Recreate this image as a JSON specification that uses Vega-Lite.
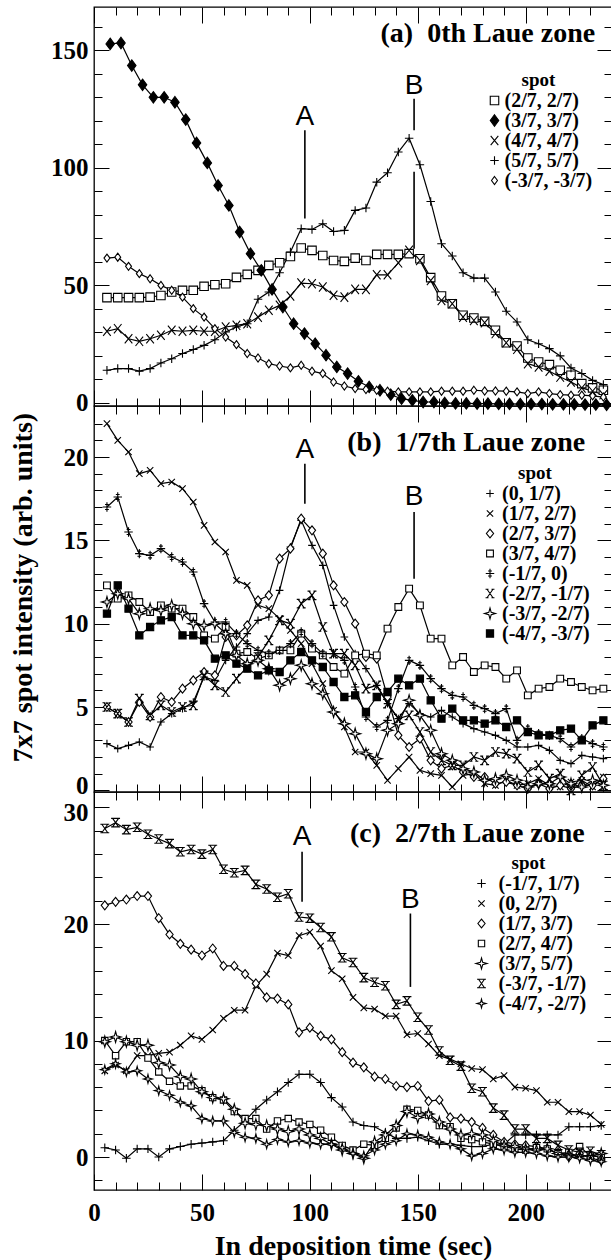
{
"$schema":"https://vega.github.io/schema/vega-lite/v6.json",
"background":"white",
"padding":{"left":8,"top":5,"right":1,"bottom":4},
"spacing":0,
"bounds":"flush",
"config":{
"view":{"stroke":"black","strokeWidth":1.3},
"axis":{"domain":false,"grid":false,"tickColor":"black","tickWidth":1,"labelFont":"Liberation Serif","labelFontSize":25,"labelFontWeight":"bold","labelColor":"black","titleFont":"Liberation Serif","titleFontSize":28,"titleFontWeight":"bold","titleColor":"black","labelFlush":false,"labelOverlap":false,"labelBound":false},
"legend":{"titleFont":"Liberation Serif","titleFontSize":19,"titleFontWeight":"bold","titleColor":"black","titleAnchor":"middle","titlePadding":1,"labelFont":"Liberation Serif","labelFontSize":20,"labelFontWeight":"bold","labelColor":"black","rowPadding":0,"symbolStrokeWidth":1.1,"symbolSize":72,"padding":0,"symbolOffset":0}
},
"resolve":{"scale":{"shape":"independent","fill":"independent","x":"independent","y":"independent"}},
"datasets":{
"ta":[{"label":"A","t":97.7,"v":121.6},{"label":"B","t":148.3,"v":135}],
"ra":[{"t":97.7,"v":116,"v2":78.4},{"t":148.3,"v":129.4,"v2":116},{"t":148.3,"v":98.3,"v2":65.6}],
"tb":[{"label":"A","t":97.7,"v":20.4},{"label":"B","t":148.3,"v":17.6}],
"rb":[{"t":97.7,"v":19.6,"v2":17.2},{"t":148.3,"v":16.7,"v2":12.7}],
"tc":[{"label":"A","t":96.4,"v":27.5},{"label":"B","t":146.6,"v":22.1}],
"rc":[{"t":96.4,"v":26.2,"v2":21.9},{"t":146.6,"v":20.9,"v2":14.6}],
"a":[
{"s":"(2/7, 2/7)","t":6,"v":44.8},{"s":"(2/7, 2/7)","t":11,"v":44.8},{"s":"(2/7, 2/7)","t":16,"v":44.8},{"s":"(2/7, 2/7)","t":21,"v":44.8},{"s":"(2/7, 2/7)","t":26,"v":45},{"s":"(2/7, 2/7)","t":31,"v":45.7},{"s":"(2/7, 2/7)","t":36,"v":47.2},{"s":"(2/7, 2/7)","t":41,"v":47.9},{"s":"(2/7, 2/7)","t":46,"v":47.9},{"s":"(2/7, 2/7)","t":51,"v":49.6},{"s":"(2/7, 2/7)","t":56,"v":50.3},{"s":"(2/7, 2/7)","t":61,"v":50.7},{"s":"(2/7, 2/7)","t":66,"v":53.4},{"s":"(2/7, 2/7)","t":71,"v":54.7},{"s":"(2/7, 2/7)","t":76,"v":56.4},{"s":"(2/7, 2/7)","t":81,"v":58.5},{"s":"(2/7, 2/7)","t":86,"v":59.6},{"s":"(2/7, 2/7)","t":91,"v":62.3},{"s":"(2/7, 2/7)","t":96,"v":65.9},{"s":"(2/7, 2/7)","t":101,"v":64.9},{"s":"(2/7, 2/7)","t":106,"v":62.7},{"s":"(2/7, 2/7)","t":111,"v":60.6},{"s":"(2/7, 2/7)","t":116,"v":60.2},{"s":"(2/7, 2/7)","t":121,"v":61.6},{"s":"(2/7, 2/7)","t":126,"v":60.6},{"s":"(2/7, 2/7)","t":131,"v":63.2},{"s":"(2/7, 2/7)","t":136,"v":63.2},{"s":"(2/7, 2/7)","t":141,"v":63.2},{"s":"(2/7, 2/7)","t":146,"v":63.5},{"s":"(2/7, 2/7)","t":151,"v":61.3},{"s":"(2/7, 2/7)","t":156,"v":53.3},{"s":"(2/7, 2/7)","t":161,"v":45.5},{"s":"(2/7, 2/7)","t":166,"v":42.2},{"s":"(2/7, 2/7)","t":171,"v":37.3},{"s":"(2/7, 2/7)","t":176,"v":36.1},{"s":"(2/7, 2/7)","t":181,"v":34.7},{"s":"(2/7, 2/7)","t":186,"v":30.9},{"s":"(2/7, 2/7)","t":191,"v":25.6},{"s":"(2/7, 2/7)","t":196,"v":24.2},{"s":"(2/7, 2/7)","t":201,"v":19.1},{"s":"(2/7, 2/7)","t":206,"v":17.4},{"s":"(2/7, 2/7)","t":211,"v":16.3},{"s":"(2/7, 2/7)","t":216,"v":13.9},{"s":"(2/7, 2/7)","t":221,"v":11.8},{"s":"(2/7, 2/7)","t":226,"v":8.2},{"s":"(2/7, 2/7)","t":231,"v":6.4},{"s":"(2/7, 2/7)","t":236,"v":5.4},
{"s":"(3/7, 3/7)","t":7.5,"v":152.7},{"s":"(3/7, 3/7)","t":12.5,"v":153.1},{"s":"(3/7, 3/7)","t":17.5,"v":143.5},{"s":"(3/7, 3/7)","t":22.5,"v":135.3},{"s":"(3/7, 3/7)","t":27.5,"v":130},{"s":"(3/7, 3/7)","t":32.5,"v":130},{"s":"(3/7, 3/7)","t":37.5,"v":127.9},{"s":"(3/7, 3/7)","t":42.5,"v":120.5},{"s":"(3/7, 3/7)","t":47.5,"v":110.6},{"s":"(3/7, 3/7)","t":52.5,"v":102.1},{"s":"(3/7, 3/7)","t":57.5,"v":92.5},{"s":"(3/7, 3/7)","t":62.5,"v":84},{"s":"(3/7, 3/7)","t":67.5,"v":72.7},{"s":"(3/7, 3/7)","t":72.5,"v":63.5},{"s":"(3/7, 3/7)","t":77.5,"v":56.4},{"s":"(3/7, 3/7)","t":82.5,"v":48.3},{"s":"(3/7, 3/7)","t":87.5,"v":40.8},{"s":"(3/7, 3/7)","t":92.5,"v":33.7},{"s":"(3/7, 3/7)","t":97.5,"v":29.5},{"s":"(3/7, 3/7)","t":102.5,"v":25.2},{"s":"(3/7, 3/7)","t":107.5,"v":20.3},{"s":"(3/7, 3/7)","t":112.5,"v":15.3},{"s":"(3/7, 3/7)","t":117.5,"v":12.5},{"s":"(3/7, 3/7)","t":122.5,"v":9.2},{"s":"(3/7, 3/7)","t":127.5,"v":6.8},{"s":"(3/7, 3/7)","t":132.5,"v":5.4},{"s":"(3/7, 3/7)","t":137.5,"v":3.5},{"s":"(3/7, 3/7)","t":142.5,"v":1.8},{"s":"(3/7, 3/7)","t":147.5,"v":1.1},{"s":"(3/7, 3/7)","t":152.5,"v":0.4},{"s":"(3/7, 3/7)","t":157.5,"v":0.4},{"s":"(3/7, 3/7)","t":162.5,"v":0},{"s":"(3/7, 3/7)","t":167.5,"v":-0.2},{"s":"(3/7, 3/7)","t":172.5,"v":-0.2},{"s":"(3/7, 3/7)","t":177.5,"v":-0.3},{"s":"(3/7, 3/7)","t":182.5,"v":-0.3},{"s":"(3/7, 3/7)","t":187.5,"v":-0.4},{"s":"(3/7, 3/7)","t":192.5,"v":-0.4},{"s":"(3/7, 3/7)","t":197.5,"v":-0.5},{"s":"(3/7, 3/7)","t":202.5,"v":-0.5},{"s":"(3/7, 3/7)","t":207.5,"v":-0.5},{"s":"(3/7, 3/7)","t":212.5,"v":-0.6},{"s":"(3/7, 3/7)","t":217.5,"v":-0.6},{"s":"(3/7, 3/7)","t":222.5,"v":-0.6},{"s":"(3/7, 3/7)","t":227.5,"v":-0.7},{"s":"(3/7, 3/7)","t":232.5,"v":-0.7},{"s":"(3/7, 3/7)","t":237.5,"v":-0.8},
{"s":"(4/7, 4/7)","t":6,"v":30.5},{"s":"(4/7, 4/7)","t":11,"v":31.6},{"s":"(4/7, 4/7)","t":16,"v":27.3},{"s":"(4/7, 4/7)","t":21,"v":26.2},{"s":"(4/7, 4/7)","t":26,"v":27.3},{"s":"(4/7, 4/7)","t":31,"v":28.8},{"s":"(4/7, 4/7)","t":36,"v":30.9},{"s":"(4/7, 4/7)","t":41,"v":30.5},{"s":"(4/7, 4/7)","t":46,"v":30.9},{"s":"(4/7, 4/7)","t":51,"v":30.5},{"s":"(4/7, 4/7)","t":56,"v":30.5},{"s":"(4/7, 4/7)","t":61,"v":32.3},{"s":"(4/7, 4/7)","t":66,"v":33},{"s":"(4/7, 4/7)","t":71,"v":33.7},{"s":"(4/7, 4/7)","t":76,"v":36.5},{"s":"(4/7, 4/7)","t":81,"v":39.4},{"s":"(4/7, 4/7)","t":86,"v":41.5},{"s":"(4/7, 4/7)","t":91,"v":45.5},{"s":"(4/7, 4/7)","t":96,"v":51},{"s":"(4/7, 4/7)","t":101,"v":50.7},{"s":"(4/7, 4/7)","t":106,"v":49.3},{"s":"(4/7, 4/7)","t":111,"v":45.8},{"s":"(4/7, 4/7)","t":116,"v":45},{"s":"(4/7, 4/7)","t":121,"v":48.3},{"s":"(4/7, 4/7)","t":126,"v":48.3},{"s":"(4/7, 4/7)","t":131,"v":54.5},{"s":"(4/7, 4/7)","t":136,"v":54.5},{"s":"(4/7, 4/7)","t":141,"v":59.6},{"s":"(4/7, 4/7)","t":146,"v":64.9},{"s":"(4/7, 4/7)","t":151,"v":60.6},{"s":"(4/7, 4/7)","t":156,"v":52.1},{"s":"(4/7, 4/7)","t":161,"v":43.6},{"s":"(4/7, 4/7)","t":166,"v":42.2},{"s":"(4/7, 4/7)","t":171,"v":36.5},{"s":"(4/7, 4/7)","t":176,"v":35.1},{"s":"(4/7, 4/7)","t":181,"v":34.1},{"s":"(4/7, 4/7)","t":186,"v":29.5},{"s":"(4/7, 4/7)","t":191,"v":25.6},{"s":"(4/7, 4/7)","t":196,"v":22.8},{"s":"(4/7, 4/7)","t":201,"v":16.7},{"s":"(4/7, 4/7)","t":206,"v":15.3},{"s":"(4/7, 4/7)","t":211,"v":13.5},{"s":"(4/7, 4/7)","t":216,"v":11},{"s":"(4/7, 4/7)","t":221,"v":8.9},{"s":"(4/7, 4/7)","t":226,"v":6.4},{"s":"(4/7, 4/7)","t":231,"v":5},{"s":"(4/7, 4/7)","t":236,"v":3.5},
{"s":"(5/7, 5/7)","t":6,"v":13.9},{"s":"(5/7, 5/7)","t":11,"v":14.6},{"s":"(5/7, 5/7)","t":16,"v":14.6},{"s":"(5/7, 5/7)","t":21,"v":13.5},{"s":"(5/7, 5/7)","t":26,"v":14.6},{"s":"(5/7, 5/7)","t":31,"v":17},{"s":"(5/7, 5/7)","t":36,"v":18.8},{"s":"(5/7, 5/7)","t":41,"v":21},{"s":"(5/7, 5/7)","t":46,"v":22.7},{"s":"(5/7, 5/7)","t":51,"v":24.5},{"s":"(5/7, 5/7)","t":56,"v":26.9},{"s":"(5/7, 5/7)","t":61,"v":30.2},{"s":"(5/7, 5/7)","t":66,"v":32.3},{"s":"(5/7, 5/7)","t":71,"v":33.7},{"s":"(5/7, 5/7)","t":76,"v":44.1},{"s":"(5/7, 5/7)","t":81,"v":47.2},{"s":"(5/7, 5/7)","t":86,"v":55.4},{"s":"(5/7, 5/7)","t":91,"v":64.2},{"s":"(5/7, 5/7)","t":96,"v":74.1},{"s":"(5/7, 5/7)","t":101,"v":73.8},{"s":"(5/7, 5/7)","t":106,"v":76.2},{"s":"(5/7, 5/7)","t":111,"v":72.9},{"s":"(5/7, 5/7)","t":116,"v":73.4},{"s":"(5/7, 5/7)","t":121,"v":81.9},{"s":"(5/7, 5/7)","t":126,"v":82.9},{"s":"(5/7, 5/7)","t":131,"v":93.9},{"s":"(5/7, 5/7)","t":136,"v":97.9},{"s":"(5/7, 5/7)","t":141,"v":106.7},{"s":"(5/7, 5/7)","t":146,"v":112.6},{"s":"(5/7, 5/7)","t":151,"v":101.3},{"s":"(5/7, 5/7)","t":156,"v":85.7},{"s":"(5/7, 5/7)","t":161,"v":67.7},{"s":"(5/7, 5/7)","t":166,"v":62.5},{"s":"(5/7, 5/7)","t":171,"v":55.4},{"s":"(5/7, 5/7)","t":176,"v":53.1},{"s":"(5/7, 5/7)","t":181,"v":53.1},{"s":"(5/7, 5/7)","t":186,"v":47.2},{"s":"(5/7, 5/7)","t":191,"v":39},{"s":"(5/7, 5/7)","t":196,"v":34.4},{"s":"(5/7, 5/7)","t":201,"v":26.9},{"s":"(5/7, 5/7)","t":206,"v":25.2},{"s":"(5/7, 5/7)","t":211,"v":23.1},{"s":"(5/7, 5/7)","t":216,"v":20},{"s":"(5/7, 5/7)","t":221,"v":14.9},{"s":"(5/7, 5/7)","t":226,"v":12.5},{"s":"(5/7, 5/7)","t":231,"v":9.6},{"s":"(5/7, 5/7)","t":236,"v":7.8},
{"s":"(-3/7, -3/7)","t":6,"v":61.6},{"s":"(-3/7, -3/7)","t":11,"v":62},{"s":"(-3/7, -3/7)","t":16,"v":58.1},{"s":"(-3/7, -3/7)","t":21,"v":55},{"s":"(-3/7, -3/7)","t":26,"v":52.8},{"s":"(-3/7, -3/7)","t":31,"v":50},{"s":"(-3/7, -3/7)","t":36,"v":47.9},{"s":"(-3/7, -3/7)","t":41,"v":45},{"s":"(-3/7, -3/7)","t":46,"v":40.1},{"s":"(-3/7, -3/7)","t":51,"v":36.5},{"s":"(-3/7, -3/7)","t":56,"v":31.6},{"s":"(-3/7, -3/7)","t":61,"v":28},{"s":"(-3/7, -3/7)","t":66,"v":24.8},{"s":"(-3/7, -3/7)","t":71,"v":21},{"s":"(-3/7, -3/7)","t":76,"v":19.1},{"s":"(-3/7, -3/7)","t":81,"v":16.7},{"s":"(-3/7, -3/7)","t":86,"v":15.7},{"s":"(-3/7, -3/7)","t":91,"v":14.9},{"s":"(-3/7, -3/7)","t":96,"v":16},{"s":"(-3/7, -3/7)","t":101,"v":13.5},{"s":"(-3/7, -3/7)","t":106,"v":12.5},{"s":"(-3/7, -3/7)","t":111,"v":8.9},{"s":"(-3/7, -3/7)","t":116,"v":7.2},{"s":"(-3/7, -3/7)","t":121,"v":6.1},{"s":"(-3/7, -3/7)","t":126,"v":5.7},{"s":"(-3/7, -3/7)","t":131,"v":5.4},{"s":"(-3/7, -3/7)","t":136,"v":5},{"s":"(-3/7, -3/7)","t":141,"v":4.7},{"s":"(-3/7, -3/7)","t":146,"v":4.7},{"s":"(-3/7, -3/7)","t":151,"v":4.7},{"s":"(-3/7, -3/7)","t":156,"v":4.7},{"s":"(-3/7, -3/7)","t":161,"v":5},{"s":"(-3/7, -3/7)","t":166,"v":5},{"s":"(-3/7, -3/7)","t":171,"v":5},{"s":"(-3/7, -3/7)","t":176,"v":5.4},{"s":"(-3/7, -3/7)","t":181,"v":5.1},{"s":"(-3/7, -3/7)","t":186,"v":5.1},{"s":"(-3/7, -3/7)","t":191,"v":5},{"s":"(-3/7, -3/7)","t":196,"v":4.7},{"s":"(-3/7, -3/7)","t":201,"v":4},{"s":"(-3/7, -3/7)","t":206,"v":4.7},{"s":"(-3/7, -3/7)","t":211,"v":4},{"s":"(-3/7, -3/7)","t":216,"v":3.5},{"s":"(-3/7, -3/7)","t":221,"v":3.3},{"s":"(-3/7, -3/7)","t":226,"v":3.3},{"s":"(-3/7, -3/7)","t":231,"v":3},{"s":"(-3/7, -3/7)","t":236,"v":2.5}
],
"b":[
{"s":"(0, 1/7)","t":6,"v":2.8},{"s":"(0, 1/7)","t":11,"v":2.5},{"s":"(0, 1/7)","t":16,"v":2.7},{"s":"(0, 1/7)","t":21,"v":2.9},{"s":"(0, 1/7)","t":26,"v":2.6},{"s":"(0, 1/7)","t":31,"v":4.1},{"s":"(0, 1/7)","t":36,"v":4.6},{"s":"(0, 1/7)","t":41,"v":4.9},{"s":"(0, 1/7)","t":46,"v":5.3},{"s":"(0, 1/7)","t":51,"v":6.8},{"s":"(0, 1/7)","t":56,"v":6.6},{"s":"(0, 1/7)","t":61,"v":7.8},{"s":"(0, 1/7)","t":66,"v":8.6},{"s":"(0, 1/7)","t":71,"v":9.4},{"s":"(0, 1/7)","t":76,"v":10.2},{"s":"(0, 1/7)","t":81,"v":10.4},{"s":"(0, 1/7)","t":86,"v":12},{"s":"(0, 1/7)","t":91,"v":14.6},{"s":"(0, 1/7)","t":96,"v":16.2},{"s":"(0, 1/7)","t":101,"v":14.7},{"s":"(0, 1/7)","t":106,"v":13.5},{"s":"(0, 1/7)","t":111,"v":11.1},{"s":"(0, 1/7)","t":116,"v":9.2},{"s":"(0, 1/7)","t":121,"v":8.2},{"s":"(0, 1/7)","t":126,"v":7.3},{"s":"(0, 1/7)","t":131,"v":6.3},{"s":"(0, 1/7)","t":136,"v":5.2},{"s":"(0, 1/7)","t":141,"v":4.3},{"s":"(0, 1/7)","t":146,"v":5.2},{"s":"(0, 1/7)","t":151,"v":4.6},{"s":"(0, 1/7)","t":156,"v":4.4},{"s":"(0, 1/7)","t":161,"v":4.8},{"s":"(0, 1/7)","t":166,"v":4.4},{"s":"(0, 1/7)","t":171,"v":4},{"s":"(0, 1/7)","t":176,"v":3.7},{"s":"(0, 1/7)","t":181,"v":3.5},{"s":"(0, 1/7)","t":186,"v":3.3},{"s":"(0, 1/7)","t":191,"v":3},{"s":"(0, 1/7)","t":196,"v":2.6},{"s":"(0, 1/7)","t":201,"v":2.6},{"s":"(0, 1/7)","t":206,"v":2.7},{"s":"(0, 1/7)","t":211,"v":2.4},{"s":"(0, 1/7)","t":216,"v":1.8},{"s":"(0, 1/7)","t":221,"v":1.6},{"s":"(0, 1/7)","t":226,"v":2.1},{"s":"(0, 1/7)","t":231,"v":2},{"s":"(0, 1/7)","t":236,"v":1.9},
{"s":"(1/7, 2/7)","t":6,"v":22},{"s":"(1/7, 2/7)","t":11,"v":21},{"s":"(1/7, 2/7)","t":16,"v":20.3},{"s":"(1/7, 2/7)","t":21,"v":19},{"s":"(1/7, 2/7)","t":26,"v":19.2},{"s":"(1/7, 2/7)","t":31,"v":18.4},{"s":"(1/7, 2/7)","t":36,"v":18.5},{"s":"(1/7, 2/7)","t":41,"v":18.1},{"s":"(1/7, 2/7)","t":46,"v":17.3},{"s":"(1/7, 2/7)","t":51,"v":15.9},{"s":"(1/7, 2/7)","t":56,"v":14.9},{"s":"(1/7, 2/7)","t":61,"v":14.3},{"s":"(1/7, 2/7)","t":66,"v":12.6},{"s":"(1/7, 2/7)","t":71,"v":12.3},{"s":"(1/7, 2/7)","t":76,"v":11.1},{"s":"(1/7, 2/7)","t":81,"v":10.9},{"s":"(1/7, 2/7)","t":86,"v":10.3},{"s":"(1/7, 2/7)","t":91,"v":9.6},{"s":"(1/7, 2/7)","t":96,"v":8.8},{"s":"(1/7, 2/7)","t":101,"v":7.6},{"s":"(1/7, 2/7)","t":106,"v":6.4},{"s":"(1/7, 2/7)","t":111,"v":4.8},{"s":"(1/7, 2/7)","t":116,"v":3.8},{"s":"(1/7, 2/7)","t":121,"v":2.3},{"s":"(1/7, 2/7)","t":126,"v":2.3},{"s":"(1/7, 2/7)","t":131,"v":1.5},{"s":"(1/7, 2/7)","t":136,"v":0.6},{"s":"(1/7, 2/7)","t":141,"v":1.3},{"s":"(1/7, 2/7)","t":146,"v":2},{"s":"(1/7, 2/7)","t":151,"v":1.2},{"s":"(1/7, 2/7)","t":156,"v":1},{"s":"(1/7, 2/7)","t":161,"v":0.9},{"s":"(1/7, 2/7)","t":166,"v":0.2},{"s":"(1/7, 2/7)","t":171,"v":0.9},{"s":"(1/7, 2/7)","t":176,"v":1},{"s":"(1/7, 2/7)","t":181,"v":0.4},{"s":"(1/7, 2/7)","t":186,"v":0.3},{"s":"(1/7, 2/7)","t":191,"v":0.6},{"s":"(1/7, 2/7)","t":196,"v":0.3},{"s":"(1/7, 2/7)","t":201,"v":0.4},{"s":"(1/7, 2/7)","t":206,"v":0.7},{"s":"(1/7, 2/7)","t":211,"v":0.3},{"s":"(1/7, 2/7)","t":216,"v":0.2},{"s":"(1/7, 2/7)","t":221,"v":0.5},{"s":"(1/7, 2/7)","t":226,"v":0.6},{"s":"(1/7, 2/7)","t":231,"v":0.2},{"s":"(1/7, 2/7)","t":236,"v":0.8},
{"s":"(2/7, 3/7)","t":6,"v":5},{"s":"(2/7, 3/7)","t":11,"v":4.6},{"s":"(2/7, 3/7)","t":16,"v":4.1},{"s":"(2/7, 3/7)","t":21,"v":5.3},{"s":"(2/7, 3/7)","t":26,"v":4.4},{"s":"(2/7, 3/7)","t":31,"v":5.6},{"s":"(2/7, 3/7)","t":36,"v":5.3},{"s":"(2/7, 3/7)","t":41,"v":6.1},{"s":"(2/7, 3/7)","t":46,"v":6.6},{"s":"(2/7, 3/7)","t":51,"v":7.1},{"s":"(2/7, 3/7)","t":56,"v":6.9},{"s":"(2/7, 3/7)","t":61,"v":9.2},{"s":"(2/7, 3/7)","t":66,"v":9.3},{"s":"(2/7, 3/7)","t":71,"v":9.9},{"s":"(2/7, 3/7)","t":76,"v":11.4},{"s":"(2/7, 3/7)","t":81,"v":11.7},{"s":"(2/7, 3/7)","t":86,"v":13.9},{"s":"(2/7, 3/7)","t":91,"v":14.5},{"s":"(2/7, 3/7)","t":96,"v":16.3},{"s":"(2/7, 3/7)","t":101,"v":15.6},{"s":"(2/7, 3/7)","t":106,"v":14.2},{"s":"(2/7, 3/7)","t":111,"v":12.3},{"s":"(2/7, 3/7)","t":116,"v":11.3},{"s":"(2/7, 3/7)","t":121,"v":10},{"s":"(2/7, 3/7)","t":126,"v":8},{"s":"(2/7, 3/7)","t":131,"v":7.9},{"s":"(2/7, 3/7)","t":136,"v":5.6},{"s":"(2/7, 3/7)","t":141,"v":3.3},{"s":"(2/7, 3/7)","t":146,"v":2.6},{"s":"(2/7, 3/7)","t":151,"v":3.1},{"s":"(2/7, 3/7)","t":156,"v":1.8},{"s":"(2/7, 3/7)","t":161,"v":1.3},{"s":"(2/7, 3/7)","t":166,"v":1.5},{"s":"(2/7, 3/7)","t":171,"v":1.1},{"s":"(2/7, 3/7)","t":176,"v":0.8},{"s":"(2/7, 3/7)","t":181,"v":0.8},{"s":"(2/7, 3/7)","t":186,"v":0.4},{"s":"(2/7, 3/7)","t":191,"v":0.5},{"s":"(2/7, 3/7)","t":196,"v":0.3},{"s":"(2/7, 3/7)","t":201,"v":0.1},{"s":"(2/7, 3/7)","t":206,"v":0.4},{"s":"(2/7, 3/7)","t":211,"v":0.1},{"s":"(2/7, 3/7)","t":216,"v":0.3},{"s":"(2/7, 3/7)","t":221,"v":0.1},{"s":"(2/7, 3/7)","t":226,"v":0.3},{"s":"(2/7, 3/7)","t":231,"v":0.3},{"s":"(2/7, 3/7)","t":236,"v":0.7},
{"s":"(3/7, 4/7)","t":6,"v":12.3},{"s":"(3/7, 4/7)","t":11,"v":11.5},{"s":"(3/7, 4/7)","t":16,"v":11.7},{"s":"(3/7, 4/7)","t":21,"v":11.3},{"s":"(3/7, 4/7)","t":26,"v":10.7},{"s":"(3/7, 4/7)","t":31,"v":11.1},{"s":"(3/7, 4/7)","t":36,"v":10.9},{"s":"(3/7, 4/7)","t":41,"v":10.9},{"s":"(3/7, 4/7)","t":46,"v":10.4},{"s":"(3/7, 4/7)","t":51,"v":9.3},{"s":"(3/7, 4/7)","t":56,"v":9.1},{"s":"(3/7, 4/7)","t":61,"v":9.8},{"s":"(3/7, 4/7)","t":66,"v":8.2},{"s":"(3/7, 4/7)","t":71,"v":8.3},{"s":"(3/7, 4/7)","t":76,"v":7.9},{"s":"(3/7, 4/7)","t":81,"v":8.1},{"s":"(3/7, 4/7)","t":86,"v":8.4},{"s":"(3/7, 4/7)","t":91,"v":8.4},{"s":"(3/7, 4/7)","t":96,"v":9.4},{"s":"(3/7, 4/7)","t":101,"v":8.5},{"s":"(3/7, 4/7)","t":106,"v":8.1},{"s":"(3/7, 4/7)","t":111,"v":7.4},{"s":"(3/7, 4/7)","t":116,"v":7},{"s":"(3/7, 4/7)","t":121,"v":8.1},{"s":"(3/7, 4/7)","t":126,"v":8.2},{"s":"(3/7, 4/7)","t":131,"v":8.1},{"s":"(3/7, 4/7)","t":136,"v":9.7},{"s":"(3/7, 4/7)","t":141,"v":11},{"s":"(3/7, 4/7)","t":146,"v":12.1},{"s":"(3/7, 4/7)","t":151,"v":11.1},{"s":"(3/7, 4/7)","t":156,"v":9.1},{"s":"(3/7, 4/7)","t":161,"v":9.1},{"s":"(3/7, 4/7)","t":166,"v":7.5},{"s":"(3/7, 4/7)","t":171,"v":8},{"s":"(3/7, 4/7)","t":176,"v":7.1},{"s":"(3/7, 4/7)","t":181,"v":7.5},{"s":"(3/7, 4/7)","t":186,"v":7.4},{"s":"(3/7, 4/7)","t":191,"v":6.7},{"s":"(3/7, 4/7)","t":196,"v":7.2},{"s":"(3/7, 4/7)","t":201,"v":5.7},{"s":"(3/7, 4/7)","t":206,"v":6.1},{"s":"(3/7, 4/7)","t":211,"v":6.2},{"s":"(3/7, 4/7)","t":216,"v":6.7},{"s":"(3/7, 4/7)","t":221,"v":6.5},{"s":"(3/7, 4/7)","t":226,"v":6.2},{"s":"(3/7, 4/7)","t":231,"v":6},{"s":"(3/7, 4/7)","t":236,"v":6.1},
{"s":"(-1/7, 0)","t":6,"v":17},{"s":"(-1/7, 0)","t":11,"v":17.6},{"s":"(-1/7, 0)","t":16,"v":15.5},{"s":"(-1/7, 0)","t":21,"v":14.2},{"s":"(-1/7, 0)","t":26,"v":14.1},{"s":"(-1/7, 0)","t":31,"v":14.5},{"s":"(-1/7, 0)","t":36,"v":14},{"s":"(-1/7, 0)","t":41,"v":13.7},{"s":"(-1/7, 0)","t":46,"v":13.1},{"s":"(-1/7, 0)","t":51,"v":11.2},{"s":"(-1/7, 0)","t":56,"v":10.1},{"s":"(-1/7, 0)","t":61,"v":10.1},{"s":"(-1/7, 0)","t":66,"v":9.4},{"s":"(-1/7, 0)","t":71,"v":8.8},{"s":"(-1/7, 0)","t":76,"v":8.4},{"s":"(-1/7, 0)","t":81,"v":8.2},{"s":"(-1/7, 0)","t":86,"v":8.4},{"s":"(-1/7, 0)","t":91,"v":8.8},{"s":"(-1/7, 0)","t":96,"v":9.5},{"s":"(-1/7, 0)","t":101,"v":8.8},{"s":"(-1/7, 0)","t":106,"v":8.2},{"s":"(-1/7, 0)","t":111,"v":8.2},{"s":"(-1/7, 0)","t":116,"v":7.8},{"s":"(-1/7, 0)","t":121,"v":6.2},{"s":"(-1/7, 0)","t":126,"v":4.4},{"s":"(-1/7, 0)","t":131,"v":3.8},{"s":"(-1/7, 0)","t":136,"v":4.2},{"s":"(-1/7, 0)","t":141,"v":6.1},{"s":"(-1/7, 0)","t":146,"v":7.8},{"s":"(-1/7, 0)","t":151,"v":7.5},{"s":"(-1/7, 0)","t":156,"v":6.7},{"s":"(-1/7, 0)","t":161,"v":6.1},{"s":"(-1/7, 0)","t":166,"v":5.7},{"s":"(-1/7, 0)","t":171,"v":5.6},{"s":"(-1/7, 0)","t":176,"v":5.1},{"s":"(-1/7, 0)","t":181,"v":4.9},{"s":"(-1/7, 0)","t":186,"v":4.6},{"s":"(-1/7, 0)","t":191,"v":4.9},{"s":"(-1/7, 0)","t":196,"v":3},{"s":"(-1/7, 0)","t":201,"v":3.7},{"s":"(-1/7, 0)","t":206,"v":3.4},{"s":"(-1/7, 0)","t":211,"v":3.3},{"s":"(-1/7, 0)","t":216,"v":3.1},{"s":"(-1/7, 0)","t":221,"v":2.6},{"s":"(-1/7, 0)","t":226,"v":3.1},{"s":"(-1/7, 0)","t":231,"v":2.8},{"s":"(-1/7, 0)","t":236,"v":2.6},
{"s":"(-2/7, -1/7)","t":6,"v":5},{"s":"(-2/7, -1/7)","t":11,"v":4.6},{"s":"(-2/7, -1/7)","t":16,"v":4.1},{"s":"(-2/7, -1/7)","t":21,"v":5.5},{"s":"(-2/7, -1/7)","t":26,"v":4.5},{"s":"(-2/7, -1/7)","t":31,"v":5.1},{"s":"(-2/7, -1/7)","t":36,"v":4.7},{"s":"(-2/7, -1/7)","t":41,"v":5},{"s":"(-2/7, -1/7)","t":46,"v":5.1},{"s":"(-2/7, -1/7)","t":51,"v":6.9},{"s":"(-2/7, -1/7)","t":56,"v":6.3},{"s":"(-2/7, -1/7)","t":61,"v":5.9},{"s":"(-2/7, -1/7)","t":66,"v":6.7},{"s":"(-2/7, -1/7)","t":71,"v":7.4},{"s":"(-2/7, -1/7)","t":76,"v":8},{"s":"(-2/7, -1/7)","t":81,"v":9},{"s":"(-2/7, -1/7)","t":86,"v":10.2},{"s":"(-2/7, -1/7)","t":91,"v":10},{"s":"(-2/7, -1/7)","t":96,"v":11.2},{"s":"(-2/7, -1/7)","t":101,"v":11.7},{"s":"(-2/7, -1/7)","t":106,"v":9.8},{"s":"(-2/7, -1/7)","t":111,"v":8.2},{"s":"(-2/7, -1/7)","t":116,"v":8.2},{"s":"(-2/7, -1/7)","t":121,"v":7.5},{"s":"(-2/7, -1/7)","t":126,"v":6.1},{"s":"(-2/7, -1/7)","t":131,"v":6.3},{"s":"(-2/7, -1/7)","t":136,"v":5.2},{"s":"(-2/7, -1/7)","t":141,"v":4.3},{"s":"(-2/7, -1/7)","t":146,"v":4.5},{"s":"(-2/7, -1/7)","t":151,"v":3.5},{"s":"(-2/7, -1/7)","t":156,"v":2.3},{"s":"(-2/7, -1/7)","t":161,"v":1.8},{"s":"(-2/7, -1/7)","t":166,"v":1.5},{"s":"(-2/7, -1/7)","t":171,"v":1.5},{"s":"(-2/7, -1/7)","t":176,"v":2},{"s":"(-2/7, -1/7)","t":181,"v":1.8},{"s":"(-2/7, -1/7)","t":186,"v":2.3},{"s":"(-2/7, -1/7)","t":191,"v":2.2},{"s":"(-2/7, -1/7)","t":196,"v":1.9},{"s":"(-2/7, -1/7)","t":201,"v":1.1},{"s":"(-2/7, -1/7)","t":206,"v":1.5},{"s":"(-2/7, -1/7)","t":211,"v":0.7},{"s":"(-2/7, -1/7)","t":216,"v":1},{"s":"(-2/7, -1/7)","t":221,"v":0},{"s":"(-2/7, -1/7)","t":226,"v":0.9},{"s":"(-2/7, -1/7)","t":231,"v":1.4},{"s":"(-2/7, -1/7)","t":236,"v":0.3},
{"s":"(-3/7, -2/7)","t":6,"v":11.3},{"s":"(-3/7, -2/7)","t":11,"v":11.8},{"s":"(-3/7, -2/7)","t":16,"v":11.5},{"s":"(-3/7, -2/7)","t":21,"v":10.6},{"s":"(-3/7, -2/7)","t":26,"v":10.9},{"s":"(-3/7, -2/7)","t":31,"v":10.8},{"s":"(-3/7, -2/7)","t":36,"v":11.1},{"s":"(-3/7, -2/7)","t":41,"v":10.6},{"s":"(-3/7, -2/7)","t":46,"v":10},{"s":"(-3/7, -2/7)","t":51,"v":9.9},{"s":"(-3/7, -2/7)","t":56,"v":10},{"s":"(-3/7, -2/7)","t":61,"v":9.4},{"s":"(-3/7, -2/7)","t":66,"v":8.1},{"s":"(-3/7, -2/7)","t":71,"v":7.6},{"s":"(-3/7, -2/7)","t":76,"v":7.8},{"s":"(-3/7, -2/7)","t":81,"v":7.3},{"s":"(-3/7, -2/7)","t":86,"v":6.3},{"s":"(-3/7, -2/7)","t":91,"v":6.7},{"s":"(-3/7, -2/7)","t":96,"v":7.5},{"s":"(-3/7, -2/7)","t":101,"v":6.4},{"s":"(-3/7, -2/7)","t":106,"v":5.8},{"s":"(-3/7, -2/7)","t":111,"v":4.7},{"s":"(-3/7, -2/7)","t":116,"v":4},{"s":"(-3/7, -2/7)","t":121,"v":3.4},{"s":"(-3/7, -2/7)","t":126,"v":2.2},{"s":"(-3/7, -2/7)","t":131,"v":1.9},{"s":"(-3/7, -2/7)","t":136,"v":3.6},{"s":"(-3/7, -2/7)","t":141,"v":4},{"s":"(-3/7, -2/7)","t":146,"v":5.4},{"s":"(-3/7, -2/7)","t":151,"v":4.5},{"s":"(-3/7, -2/7)","t":156,"v":3.6},{"s":"(-3/7, -2/7)","t":161,"v":2.2},{"s":"(-3/7, -2/7)","t":166,"v":1.8},{"s":"(-3/7, -2/7)","t":171,"v":1.3},{"s":"(-3/7, -2/7)","t":176,"v":1.1},{"s":"(-3/7, -2/7)","t":181,"v":0.6},{"s":"(-3/7, -2/7)","t":186,"v":0.7},{"s":"(-3/7, -2/7)","t":191,"v":0.9},{"s":"(-3/7, -2/7)","t":196,"v":0.6},{"s":"(-3/7, -2/7)","t":201,"v":0.2},{"s":"(-3/7, -2/7)","t":206,"v":0.4},{"s":"(-3/7, -2/7)","t":211,"v":0.4},{"s":"(-3/7, -2/7)","t":216,"v":0.8},{"s":"(-3/7, -2/7)","t":221,"v":0.4},{"s":"(-3/7, -2/7)","t":226,"v":0.2},{"s":"(-3/7, -2/7)","t":231,"v":0.6},{"s":"(-3/7, -2/7)","t":236,"v":0.3},
{"s":"(-4/7, -3/7)","t":6,"v":10.6},{"s":"(-4/7, -3/7)","t":11,"v":12.3},{"s":"(-4/7, -3/7)","t":16,"v":10.9},{"s":"(-4/7, -3/7)","t":21,"v":9.3},{"s":"(-4/7, -3/7)","t":26,"v":9.8},{"s":"(-4/7, -3/7)","t":31,"v":10.2},{"s":"(-4/7, -3/7)","t":36,"v":10.4},{"s":"(-4/7, -3/7)","t":41,"v":9.3},{"s":"(-4/7, -3/7)","t":46,"v":9.3},{"s":"(-4/7, -3/7)","t":51,"v":9},{"s":"(-4/7, -3/7)","t":56,"v":7.9},{"s":"(-4/7, -3/7)","t":61,"v":8.1},{"s":"(-4/7, -3/7)","t":66,"v":7.6},{"s":"(-4/7, -3/7)","t":71,"v":7.3},{"s":"(-4/7, -3/7)","t":76,"v":6.9},{"s":"(-4/7, -3/7)","t":81,"v":7.2},{"s":"(-4/7, -3/7)","t":86,"v":7.1},{"s":"(-4/7, -3/7)","t":91,"v":7.8},{"s":"(-4/7, -3/7)","t":96,"v":8.3},{"s":"(-4/7, -3/7)","t":101,"v":7.8},{"s":"(-4/7, -3/7)","t":106,"v":7.4},{"s":"(-4/7, -3/7)","t":111,"v":6.5},{"s":"(-4/7, -3/7)","t":116,"v":5.6},{"s":"(-4/7, -3/7)","t":121,"v":5.7},{"s":"(-4/7, -3/7)","t":126,"v":4.7},{"s":"(-4/7, -3/7)","t":131,"v":5.6},{"s":"(-4/7, -3/7)","t":136,"v":5.9},{"s":"(-4/7, -3/7)","t":141,"v":6.7},{"s":"(-4/7, -3/7)","t":146,"v":6.3},{"s":"(-4/7, -3/7)","t":151,"v":6.7},{"s":"(-4/7, -3/7)","t":156,"v":5.4},{"s":"(-4/7, -3/7)","t":161,"v":4.3},{"s":"(-4/7, -3/7)","t":166,"v":4.9},{"s":"(-4/7, -3/7)","t":171,"v":4.2},{"s":"(-4/7, -3/7)","t":176,"v":4.2},{"s":"(-4/7, -3/7)","t":181,"v":4},{"s":"(-4/7, -3/7)","t":186,"v":4.2},{"s":"(-4/7, -3/7)","t":191,"v":3.8},{"s":"(-4/7, -3/7)","t":196,"v":4.2},{"s":"(-4/7, -3/7)","t":201,"v":3.5},{"s":"(-4/7, -3/7)","t":206,"v":3.3},{"s":"(-4/7, -3/7)","t":211,"v":3.3},{"s":"(-4/7, -3/7)","t":216,"v":3.6},{"s":"(-4/7, -3/7)","t":221,"v":3.7},{"s":"(-4/7, -3/7)","t":226,"v":3},{"s":"(-4/7, -3/7)","t":231,"v":3.9},{"s":"(-4/7, -3/7)","t":236,"v":4.2}
],
"c":[
{"s":"(-1/7, 1/7)","t":5,"v":0.8},{"s":"(-1/7, 1/7)","t":10,"v":0.6},{"s":"(-1/7, 1/7)","t":15,"v":-0.1},{"s":"(-1/7, 1/7)","t":20,"v":0.7},{"s":"(-1/7, 1/7)","t":25,"v":0.7},{"s":"(-1/7, 1/7)","t":30,"v":0},{"s":"(-1/7, 1/7)","t":35,"v":0.7},{"s":"(-1/7, 1/7)","t":40,"v":0.9},{"s":"(-1/7, 1/7)","t":45,"v":1.1},{"s":"(-1/7, 1/7)","t":50,"v":1.2},{"s":"(-1/7, 1/7)","t":55,"v":1.3},{"s":"(-1/7, 1/7)","t":60,"v":1.4},{"s":"(-1/7, 1/7)","t":65,"v":2.3},{"s":"(-1/7, 1/7)","t":70,"v":3.1},{"s":"(-1/7, 1/7)","t":75,"v":4.1},{"s":"(-1/7, 1/7)","t":80,"v":4.9},{"s":"(-1/7, 1/7)","t":85,"v":5.6},{"s":"(-1/7, 1/7)","t":90,"v":6.4},{"s":"(-1/7, 1/7)","t":95,"v":7.1},{"s":"(-1/7, 1/7)","t":100,"v":7.1},{"s":"(-1/7, 1/7)","t":105,"v":6.4},{"s":"(-1/7, 1/7)","t":110,"v":5.1},{"s":"(-1/7, 1/7)","t":115,"v":4.3},{"s":"(-1/7, 1/7)","t":120,"v":3},{"s":"(-1/7, 1/7)","t":125,"v":2.7},{"s":"(-1/7, 1/7)","t":130,"v":2.6},{"s":"(-1/7, 1/7)","t":135,"v":2.1},{"s":"(-1/7, 1/7)","t":140,"v":1.6},{"s":"(-1/7, 1/7)","t":145,"v":1.6},{"s":"(-1/7, 1/7)","t":150,"v":1.7},{"s":"(-1/7, 1/7)","t":155,"v":1.4},{"s":"(-1/7, 1/7)","t":160,"v":1.1},{"s":"(-1/7, 1/7)","t":165,"v":1.1},{"s":"(-1/7, 1/7)","t":170,"v":1},{"s":"(-1/7, 1/7)","t":175,"v":0.9},{"s":"(-1/7, 1/7)","t":180,"v":0.9},{"s":"(-1/7, 1/7)","t":185,"v":1.1},{"s":"(-1/7, 1/7)","t":190,"v":1.1},{"s":"(-1/7, 1/7)","t":195,"v":1.9},{"s":"(-1/7, 1/7)","t":200,"v":1.9},{"s":"(-1/7, 1/7)","t":205,"v":1.9},{"s":"(-1/7, 1/7)","t":210,"v":1.9},{"s":"(-1/7, 1/7)","t":215,"v":1.9},{"s":"(-1/7, 1/7)","t":220,"v":2.6},{"s":"(-1/7, 1/7)","t":225,"v":2.6},{"s":"(-1/7, 1/7)","t":230,"v":2.6},{"s":"(-1/7, 1/7)","t":235,"v":2.7},
{"s":"(0, 2/7)","t":5,"v":7.4},{"s":"(0, 2/7)","t":10,"v":7.9},{"s":"(0, 2/7)","t":15,"v":7.4},{"s":"(0, 2/7)","t":20,"v":8.7},{"s":"(0, 2/7)","t":25,"v":8.7},{"s":"(0, 2/7)","t":30,"v":8.9},{"s":"(0, 2/7)","t":35,"v":9},{"s":"(0, 2/7)","t":40,"v":9.6},{"s":"(0, 2/7)","t":45,"v":10.4},{"s":"(0, 2/7)","t":50,"v":10.1},{"s":"(0, 2/7)","t":55,"v":10.9},{"s":"(0, 2/7)","t":60,"v":11.9},{"s":"(0, 2/7)","t":65,"v":12.6},{"s":"(0, 2/7)","t":70,"v":12.6},{"s":"(0, 2/7)","t":75,"v":14.7},{"s":"(0, 2/7)","t":80,"v":15.7},{"s":"(0, 2/7)","t":85,"v":17.5},{"s":"(0, 2/7)","t":90,"v":17.3},{"s":"(0, 2/7)","t":95,"v":19},{"s":"(0, 2/7)","t":100,"v":19.3},{"s":"(0, 2/7)","t":105,"v":18.1},{"s":"(0, 2/7)","t":110,"v":16},{"s":"(0, 2/7)","t":115,"v":15.3},{"s":"(0, 2/7)","t":120,"v":13.7},{"s":"(0, 2/7)","t":125,"v":12.8},{"s":"(0, 2/7)","t":130,"v":12.7},{"s":"(0, 2/7)","t":135,"v":12.1},{"s":"(0, 2/7)","t":140,"v":12.1},{"s":"(0, 2/7)","t":145,"v":10.5},{"s":"(0, 2/7)","t":150,"v":10.6},{"s":"(0, 2/7)","t":155,"v":9.7},{"s":"(0, 2/7)","t":160,"v":8.7},{"s":"(0, 2/7)","t":165,"v":8.4},{"s":"(0, 2/7)","t":170,"v":8},{"s":"(0, 2/7)","t":175,"v":7.6},{"s":"(0, 2/7)","t":180,"v":7.5},{"s":"(0, 2/7)","t":185,"v":6.7},{"s":"(0, 2/7)","t":190,"v":7},{"s":"(0, 2/7)","t":195,"v":6},{"s":"(0, 2/7)","t":200,"v":5.9},{"s":"(0, 2/7)","t":205,"v":5.7},{"s":"(0, 2/7)","t":210,"v":4.7},{"s":"(0, 2/7)","t":215,"v":4.7},{"s":"(0, 2/7)","t":220,"v":3.9},{"s":"(0, 2/7)","t":225,"v":3.9},{"s":"(0, 2/7)","t":230,"v":3.6},{"s":"(0, 2/7)","t":235,"v":2.8},
{"s":"(1/7, 3/7)","t":5,"v":21.6},{"s":"(1/7, 3/7)","t":10,"v":21.9},{"s":"(1/7, 3/7)","t":15,"v":22.1},{"s":"(1/7, 3/7)","t":20,"v":22.4},{"s":"(1/7, 3/7)","t":25,"v":22.4},{"s":"(1/7, 3/7)","t":30,"v":20.5},{"s":"(1/7, 3/7)","t":35,"v":19.1},{"s":"(1/7, 3/7)","t":40,"v":18.3},{"s":"(1/7, 3/7)","t":45,"v":17.8},{"s":"(1/7, 3/7)","t":50,"v":17.3},{"s":"(1/7, 3/7)","t":55,"v":17.9},{"s":"(1/7, 3/7)","t":60,"v":16.4},{"s":"(1/7, 3/7)","t":65,"v":16.4},{"s":"(1/7, 3/7)","t":70,"v":15.7},{"s":"(1/7, 3/7)","t":75,"v":14.9},{"s":"(1/7, 3/7)","t":80,"v":13.7},{"s":"(1/7, 3/7)","t":85,"v":13.6},{"s":"(1/7, 3/7)","t":90,"v":13.1},{"s":"(1/7, 3/7)","t":95,"v":10.7},{"s":"(1/7, 3/7)","t":100,"v":11.1},{"s":"(1/7, 3/7)","t":105,"v":10.4},{"s":"(1/7, 3/7)","t":110,"v":10.1},{"s":"(1/7, 3/7)","t":115,"v":9},{"s":"(1/7, 3/7)","t":120,"v":8.1},{"s":"(1/7, 3/7)","t":125,"v":7.7},{"s":"(1/7, 3/7)","t":130,"v":6.9},{"s":"(1/7, 3/7)","t":135,"v":6.7},{"s":"(1/7, 3/7)","t":140,"v":6.1},{"s":"(1/7, 3/7)","t":145,"v":6},{"s":"(1/7, 3/7)","t":150,"v":6.1},{"s":"(1/7, 3/7)","t":155,"v":4.8},{"s":"(1/7, 3/7)","t":160,"v":4.9},{"s":"(1/7, 3/7)","t":165,"v":3.4},{"s":"(1/7, 3/7)","t":170,"v":3.3},{"s":"(1/7, 3/7)","t":175,"v":3},{"s":"(1/7, 3/7)","t":180,"v":2.5},{"s":"(1/7, 3/7)","t":185,"v":1.9},{"s":"(1/7, 3/7)","t":190,"v":1.3},{"s":"(1/7, 3/7)","t":195,"v":1.1},{"s":"(1/7, 3/7)","t":200,"v":1},{"s":"(1/7, 3/7)","t":205,"v":0.9},{"s":"(1/7, 3/7)","t":210,"v":0.7},{"s":"(1/7, 3/7)","t":215,"v":0.3},{"s":"(1/7, 3/7)","t":220,"v":0},{"s":"(1/7, 3/7)","t":225,"v":0.3},{"s":"(1/7, 3/7)","t":230,"v":-0.1},{"s":"(1/7, 3/7)","t":235,"v":-0.3},
{"s":"(2/7, 4/7)","t":5,"v":10},{"s":"(2/7, 4/7)","t":10,"v":8.7},{"s":"(2/7, 4/7)","t":15,"v":9.9},{"s":"(2/7, 4/7)","t":20,"v":9.9},{"s":"(2/7, 4/7)","t":25,"v":8.5},{"s":"(2/7, 4/7)","t":30,"v":7.3},{"s":"(2/7, 4/7)","t":35,"v":6.5},{"s":"(2/7, 4/7)","t":40,"v":6.1},{"s":"(2/7, 4/7)","t":45,"v":6.1},{"s":"(2/7, 4/7)","t":50,"v":5.7},{"s":"(2/7, 4/7)","t":55,"v":5.1},{"s":"(2/7, 4/7)","t":60,"v":4.9},{"s":"(2/7, 4/7)","t":65,"v":3.9},{"s":"(2/7, 4/7)","t":70,"v":3.3},{"s":"(2/7, 4/7)","t":75,"v":3.3},{"s":"(2/7, 4/7)","t":80,"v":2.4},{"s":"(2/7, 4/7)","t":85,"v":3.1},{"s":"(2/7, 4/7)","t":90,"v":3.3},{"s":"(2/7, 4/7)","t":95,"v":3},{"s":"(2/7, 4/7)","t":100,"v":2.8},{"s":"(2/7, 4/7)","t":105,"v":2.3},{"s":"(2/7, 4/7)","t":110,"v":1.7},{"s":"(2/7, 4/7)","t":115,"v":1},{"s":"(2/7, 4/7)","t":120,"v":0.6},{"s":"(2/7, 4/7)","t":125,"v":1.1},{"s":"(2/7, 4/7)","t":130,"v":1},{"s":"(2/7, 4/7)","t":135,"v":1.6},{"s":"(2/7, 4/7)","t":140,"v":2.5},{"s":"(2/7, 4/7)","t":145,"v":4.1},{"s":"(2/7, 4/7)","t":150,"v":4},{"s":"(2/7, 4/7)","t":155,"v":3.6},{"s":"(2/7, 4/7)","t":160,"v":2.7},{"s":"(2/7, 4/7)","t":165,"v":2.6},{"s":"(2/7, 4/7)","t":170,"v":1.6},{"s":"(2/7, 4/7)","t":175,"v":1.5},{"s":"(2/7, 4/7)","t":180,"v":1.3},{"s":"(2/7, 4/7)","t":185,"v":1.1},{"s":"(2/7, 4/7)","t":190,"v":0.9},{"s":"(2/7, 4/7)","t":195,"v":0.7},{"s":"(2/7, 4/7)","t":200,"v":0.6},{"s":"(2/7, 4/7)","t":205,"v":0.8},{"s":"(2/7, 4/7)","t":210,"v":0.7},{"s":"(2/7, 4/7)","t":215,"v":0.3},{"s":"(2/7, 4/7)","t":220,"v":0.4},{"s":"(2/7, 4/7)","t":225,"v":0.9},{"s":"(2/7, 4/7)","t":230,"v":0.1},{"s":"(2/7, 4/7)","t":235,"v":0},
{"s":"(3/7, 5/7)","t":5,"v":9.9},{"s":"(3/7, 5/7)","t":10,"v":10.3},{"s":"(3/7, 5/7)","t":15,"v":9.9},{"s":"(3/7, 5/7)","t":20,"v":9.6},{"s":"(3/7, 5/7)","t":25,"v":9.6},{"s":"(3/7, 5/7)","t":30,"v":8.1},{"s":"(3/7, 5/7)","t":35,"v":7.9},{"s":"(3/7, 5/7)","t":40,"v":6.9},{"s":"(3/7, 5/7)","t":45,"v":6.7},{"s":"(3/7, 5/7)","t":50,"v":5.6},{"s":"(3/7, 5/7)","t":55,"v":5.1},{"s":"(3/7, 5/7)","t":60,"v":5},{"s":"(3/7, 5/7)","t":65,"v":4.1},{"s":"(3/7, 5/7)","t":70,"v":2.9},{"s":"(3/7, 5/7)","t":75,"v":2.8},{"s":"(3/7, 5/7)","t":80,"v":2.7},{"s":"(3/7, 5/7)","t":85,"v":2.4},{"s":"(3/7, 5/7)","t":90,"v":2.2},{"s":"(3/7, 5/7)","t":95,"v":2.4},{"s":"(3/7, 5/7)","t":100,"v":1.9},{"s":"(3/7, 5/7)","t":105,"v":1.6},{"s":"(3/7, 5/7)","t":110,"v":1.1},{"s":"(3/7, 5/7)","t":115,"v":0.6},{"s":"(3/7, 5/7)","t":120,"v":0.3},{"s":"(3/7, 5/7)","t":125,"v":-0.1},{"s":"(3/7, 5/7)","t":130,"v":1.3},{"s":"(3/7, 5/7)","t":135,"v":1.9},{"s":"(3/7, 5/7)","t":140,"v":2.7},{"s":"(3/7, 5/7)","t":145,"v":3.9},{"s":"(3/7, 5/7)","t":150,"v":3.4},{"s":"(3/7, 5/7)","t":155,"v":3.7},{"s":"(3/7, 5/7)","t":160,"v":3},{"s":"(3/7, 5/7)","t":165,"v":2.4},{"s":"(3/7, 5/7)","t":170,"v":1.9},{"s":"(3/7, 5/7)","t":175,"v":2},{"s":"(3/7, 5/7)","t":180,"v":1.9},{"s":"(3/7, 5/7)","t":185,"v":1.4},{"s":"(3/7, 5/7)","t":190,"v":1},{"s":"(3/7, 5/7)","t":195,"v":0.9},{"s":"(3/7, 5/7)","t":200,"v":0.7},{"s":"(3/7, 5/7)","t":205,"v":0.6},{"s":"(3/7, 5/7)","t":210,"v":0.7},{"s":"(3/7, 5/7)","t":215,"v":0.3},{"s":"(3/7, 5/7)","t":220,"v":0.2},{"s":"(3/7, 5/7)","t":225,"v":0.1},{"s":"(3/7, 5/7)","t":230,"v":0.1},{"s":"(3/7, 5/7)","t":235,"v":0.3},
{"s":"(-3/7, -1/7)","t":5,"v":28.2},{"s":"(-3/7, -1/7)","t":10,"v":28.7},{"s":"(-3/7, -1/7)","t":15,"v":28.1},{"s":"(-3/7, -1/7)","t":20,"v":28.3},{"s":"(-3/7, -1/7)","t":25,"v":27.7},{"s":"(-3/7, -1/7)","t":30,"v":27.3},{"s":"(-3/7, -1/7)","t":35,"v":26.9},{"s":"(-3/7, -1/7)","t":40,"v":26.2},{"s":"(-3/7, -1/7)","t":45,"v":26.4},{"s":"(-3/7, -1/7)","t":50,"v":26},{"s":"(-3/7, -1/7)","t":55,"v":26.4},{"s":"(-3/7, -1/7)","t":60,"v":24.7},{"s":"(-3/7, -1/7)","t":65,"v":24.4},{"s":"(-3/7, -1/7)","t":70,"v":24.6},{"s":"(-3/7, -1/7)","t":75,"v":23.4},{"s":"(-3/7, -1/7)","t":80,"v":23},{"s":"(-3/7, -1/7)","t":85,"v":22.3},{"s":"(-3/7, -1/7)","t":90,"v":22.6},{"s":"(-3/7, -1/7)","t":95,"v":20.6},{"s":"(-3/7, -1/7)","t":100,"v":20.5},{"s":"(-3/7, -1/7)","t":105,"v":19.7},{"s":"(-3/7, -1/7)","t":110,"v":18.9},{"s":"(-3/7, -1/7)","t":115,"v":17.1},{"s":"(-3/7, -1/7)","t":120,"v":16.7},{"s":"(-3/7, -1/7)","t":125,"v":15.4},{"s":"(-3/7, -1/7)","t":130,"v":15},{"s":"(-3/7, -1/7)","t":135,"v":14.7},{"s":"(-3/7, -1/7)","t":140,"v":13.1},{"s":"(-3/7, -1/7)","t":145,"v":13.4},{"s":"(-3/7, -1/7)","t":150,"v":12},{"s":"(-3/7, -1/7)","t":155,"v":10.9},{"s":"(-3/7, -1/7)","t":160,"v":9.1},{"s":"(-3/7, -1/7)","t":165,"v":8.3},{"s":"(-3/7, -1/7)","t":170,"v":7.8},{"s":"(-3/7, -1/7)","t":175,"v":5.9},{"s":"(-3/7, -1/7)","t":180,"v":5.6},{"s":"(-3/7, -1/7)","t":185,"v":4.2},{"s":"(-3/7, -1/7)","t":190,"v":3.6},{"s":"(-3/7, -1/7)","t":195,"v":2.4},{"s":"(-3/7, -1/7)","t":200,"v":2.4},{"s":"(-3/7, -1/7)","t":205,"v":1.6},{"s":"(-3/7, -1/7)","t":210,"v":1.6},{"s":"(-3/7, -1/7)","t":215,"v":1},{"s":"(-3/7, -1/7)","t":220,"v":0.6},{"s":"(-3/7, -1/7)","t":225,"v":0.4},{"s":"(-3/7, -1/7)","t":230,"v":0.5},{"s":"(-3/7, -1/7)","t":235,"v":0.2},
{"s":"(-4/7, -2/7)","t":5,"v":7.5},{"s":"(-4/7, -2/7)","t":10,"v":8},{"s":"(-4/7, -2/7)","t":15,"v":7.3},{"s":"(-4/7, -2/7)","t":20,"v":7.4},{"s":"(-4/7, -2/7)","t":25,"v":6.7},{"s":"(-4/7, -2/7)","t":30,"v":5.7},{"s":"(-4/7, -2/7)","t":35,"v":5.3},{"s":"(-4/7, -2/7)","t":40,"v":4.7},{"s":"(-4/7, -2/7)","t":45,"v":4.4},{"s":"(-4/7, -2/7)","t":50,"v":3.3},{"s":"(-4/7, -2/7)","t":55,"v":3.1},{"s":"(-4/7, -2/7)","t":60,"v":3.1},{"s":"(-4/7, -2/7)","t":65,"v":2.1},{"s":"(-4/7, -2/7)","t":70,"v":1.7},{"s":"(-4/7, -2/7)","t":75,"v":1.6},{"s":"(-4/7, -2/7)","t":80,"v":1.1},{"s":"(-4/7, -2/7)","t":85,"v":1.5},{"s":"(-4/7, -2/7)","t":90,"v":1.3},{"s":"(-4/7, -2/7)","t":95,"v":1.4},{"s":"(-4/7, -2/7)","t":100,"v":1.2},{"s":"(-4/7, -2/7)","t":105,"v":1.1},{"s":"(-4/7, -2/7)","t":110,"v":1.1},{"s":"(-4/7, -2/7)","t":115,"v":0.8},{"s":"(-4/7, -2/7)","t":120,"v":0.3},{"s":"(-4/7, -2/7)","t":125,"v":0.1},{"s":"(-4/7, -2/7)","t":130,"v":0.6},{"s":"(-4/7, -2/7)","t":135,"v":1.1},{"s":"(-4/7, -2/7)","t":140,"v":1.4},{"s":"(-4/7, -2/7)","t":145,"v":2},{"s":"(-4/7, -2/7)","t":150,"v":1.9},{"s":"(-4/7, -2/7)","t":155,"v":1.7},{"s":"(-4/7, -2/7)","t":160,"v":1.3},{"s":"(-4/7, -2/7)","t":165,"v":1.1},{"s":"(-4/7, -2/7)","t":170,"v":0.7},{"s":"(-4/7, -2/7)","t":175,"v":0.1},{"s":"(-4/7, -2/7)","t":180,"v":0.3},{"s":"(-4/7, -2/7)","t":185,"v":0.7},{"s":"(-4/7, -2/7)","t":190,"v":0.6},{"s":"(-4/7, -2/7)","t":195,"v":0.4},{"s":"(-4/7, -2/7)","t":200,"v":0.4},{"s":"(-4/7, -2/7)","t":205,"v":0.3},{"s":"(-4/7, -2/7)","t":210,"v":0.1},{"s":"(-4/7, -2/7)","t":215,"v":0},{"s":"(-4/7, -2/7)","t":220,"v":0},{"s":"(-4/7, -2/7)","t":225,"v":-0.1},{"s":"(-4/7, -2/7)","t":230,"v":-0.3},{"s":"(-4/7, -2/7)","t":235,"v":-0.4}
]
},
"vconcat":[
{"width":518,"height":399,
"resolve":{"axis":{"x":"independent","y":"independent"}},
"layer":[
{"data":{"name":"a"},"mark":{"type":"line","stroke":"black","strokeWidth":1.2},
"encoding":{
"x":{"field":"t","type":"quantitative","scale":{"domain":[0,240],"nice":false,"zero":false},"axis":{"orient":"bottom","values":[0,50,100,150,200],"tickSize":-16,"labels":false,"title":null}},
"y":{"field":"v","type":"quantitative","scale":{"domain":[-1.3,168.4],"nice":false,"zero":false},"axis":{"orient":"left","values":[0,50,100,150],"tickSize":-15,"labelPadding":21,"title":null}},
"detail":{"field":"s","type":"nominal"}}},
{"data":{"name":"a"},"mark":{"type":"point","filled":true,"stroke":"black","strokeWidth":1.1,"opacity":1,"size":72},
"encoding":{
"x":{"field":"t","type":"quantitative","scale":{"domain":[0,240],"nice":false,"zero":false},"axis":{"orient":"top","values":[0,50,100,150,200],"tickSize":-16,"labels":false,"title":null}},
"y":{"field":"v","type":"quantitative","scale":{"domain":[-1.3,168.4],"nice":false,"zero":false},"axis":{"orient":"right","values":[0,50,100,150],"tickSize":-15,"labels":false,"title":null}},
"shape":{"field":"s","type":"nominal","scale":{"domain":["(2/7, 2/7)","(3/7, 3/7)","(4/7, 4/7)","(5/7, 5/7)","(-3/7, -3/7)"],"range":["M-1,-1L1,-1L1,1L-1,1Z","M0,-1.35L1,0L0,1.35L-1,0Z","M-0.9,-1.1L0.9,1.1M-0.9,1.1L0.9,-1.1","M-1,0L1,0M0,-1L0,1","M0,-0.95L0.7,0L0,0.95L-0.7,0Z"]},"legend":{"title":"spot","orient":"none","legendX":390.5,"legendY":63.5,"labelOffset":0}},
"fill":{"field":"s","type":"nominal","scale":{"domain":["(2/7, 2/7)","(3/7, 3/7)","(4/7, 4/7)","(5/7, 5/7)","(-3/7, -3/7)"],"range":["white","black","white","white","white"]},"legend":{"title":"spot","orient":"none","legendX":390.5,"legendY":63.5,"labelOffset":0}}}},
{"data":{"name":"ra"},"mark":{"type":"rule","stroke":"black","strokeWidth":1.6},
"encoding":{
"x":{"field":"t","type":"quantitative","scale":{"domain":[0,240],"nice":false,"zero":false},"axis":{"orient":"bottom","values":[10,20,30,40,60,70,80,90,110,120,130,140,160,170,180,190,210,220,230],"tickSize":-8,"labels":false,"title":null}},
"y":{"field":"v","type":"quantitative","scale":{"domain":[-1.3,168.4],"nice":false,"zero":false},"axis":{"orient":"left","values":[10,20,30,40,60,70,80,90,110,120,130,140,160],"tickSize":-8,"labels":false,"title":null}},
"y2":{"field":"v2"}}},
{"data":{"name":"ta"},"mark":{"type":"text","font":"Liberation Sans","fontSize":28,"color":"black","align":"center","baseline":"middle"},
"encoding":{
"x":{"field":"t","type":"quantitative","scale":{"domain":[0,240],"nice":false,"zero":false},"axis":{"orient":"top","values":[10,20,30,40,60,70,80,90,110,120,130,140,160,170,180,190,210,220,230],"tickSize":-8,"labels":false,"title":null}},
"y":{"field":"v","type":"quantitative","scale":{"domain":[-1.3,168.4],"nice":false,"zero":false},"axis":{"orient":"right","values":[10,20,30,40,60,70,80,90,110,120,130,140,160],"tickSize":-8,"labels":false,"title":null}},
"text":{"field":"label"}}},
{"data":{"values":[{}]},"mark":{"type":"text","font":"Liberation Serif","fontSize":28,"fontWeight":"bold","color":"black","align":"right","baseline":"middle"},
"encoding":{
"x":{"datum":232.2,"type":"quantitative","axis":null},
"y":{"datum":156.9,"type":"quantitative","axis":null},
"text":{"value":"(a)\u00a0 0th Laue zone"}}}
]},
{"width":518,"height":386,
"resolve":{"axis":{"x":"independent","y":"independent"}},
"layer":[
{"data":{"name":"b"},"mark":{"type":"line","stroke":"black","strokeWidth":1.2},
"encoding":{
"x":{"field":"t","type":"quantitative","scale":{"domain":[0,240],"nice":false,"zero":false},"axis":{"orient":"bottom","values":[0,50,100,150,200],"tickSize":-16,"labels":false,"title":null}},
"y":{"field":"v","type":"quantitative","scale":{"domain":[-0.1,23.06],"nice":false,"zero":false},"axis":{"orient":"left","values":[0,5,10,15,20],"tickSize":-15,"labelPadding":21,"labelOffset":{"condition":{"test":"datum.value === 0","value":-5},"value":0},"title":"7x7 spot intensity (arb. units)","titlePadding":26,"titleY":181}},
"detail":{"field":"s","type":"nominal"}}},
{"data":{"name":"b"},"mark":{"type":"point","filled":true,"stroke":"black","strokeWidth":1.1,"opacity":1,"size":72},
"encoding":{
"x":{"field":"t","type":"quantitative","scale":{"domain":[0,240],"nice":false,"zero":false},"axis":{"orient":"top","values":[0,50,100,150,200],"tickSize":-16,"labels":false,"title":null}},
"y":{"field":"v","type":"quantitative","scale":{"domain":[-0.1,23.06],"nice":false,"zero":false},"axis":{"orient":"right","values":[0,5,10,15,20],"tickSize":-15,"labels":false,"title":null}},
"shape":{"field":"s","type":"nominal","scale":{"domain":["(0, 1/7)","(1/7, 2/7)","(2/7, 3/7)","(3/7, 4/7)","(-1/7, 0)","(-2/7, -1/7)","(-3/7, -2/7)","(-4/7, -3/7)"],"range":["M-0.9,0L0.9,0M0,-0.9L0,0.9","M-0.75,-0.75L0.75,0.75M-0.75,0.75L0.75,-0.75","M0,-1.05L0.85,0L0,1.05L-0.85,0Z","M-0.8,-0.8L0.8,-0.8L0.8,0.8L-0.8,0.8Z","M-1,0L1,0M0,-1.1L0,1.1M-0.45,-0.6L0.45,-0.6M-0.45,0.6L0.45,0.6","M-0.7,-1L0.7,1M-0.7,1L0.7,-1M-1.05,-1L-0.35,-1M0.35,-1L1.05,-1M-1.05,1L-0.35,1M0.35,1L1.05,1","M0,-1.3L0.28,-0.28L1.3,0L0.28,0.28L0,1.3L-0.28,0.28L-1.3,0L-0.28,-0.28Z","M-0.85,-0.85L0.85,-0.85L0.85,0.85L-0.85,0.85Z"]},"legend":{"title":"spot","orient":"none","legendX":386,"legendY":57.5,"labelOffset":2}},
"fill":{"field":"s","type":"nominal","scale":{"domain":["(0, 1/7)","(1/7, 2/7)","(2/7, 3/7)","(3/7, 4/7)","(-1/7, 0)","(-2/7, -1/7)","(-3/7, -2/7)","(-4/7, -3/7)"],"range":["white","white","white","white","white","white","white","black"]},"legend":{"title":"spot","orient":"none","legendX":386,"legendY":57.5,"labelOffset":2}}}},
{"data":{"name":"rb"},"mark":{"type":"rule","stroke":"black","strokeWidth":1.6},
"encoding":{
"x":{"field":"t","type":"quantitative","scale":{"domain":[0,240],"nice":false,"zero":false},"axis":{"orient":"bottom","values":[10,20,30,40,60,70,80,90,110,120,130,140,160,170,180,190,210,220,230],"tickSize":-8,"labels":false,"title":null}},
"y":{"field":"v","type":"quantitative","scale":{"domain":[-0.1,23.06],"nice":false,"zero":false},"axis":{"orient":"left","values":[1,2,3,4,6,7,8,9,11,12,13,14,16,17,18,19,21,22],"tickSize":-8,"labels":false,"title":null}},
"y2":{"field":"v2"}}},
{"data":{"name":"tb"},"mark":{"type":"text","font":"Liberation Sans","fontSize":28,"color":"black","align":"center","baseline":"middle"},
"encoding":{
"x":{"field":"t","type":"quantitative","scale":{"domain":[0,240],"nice":false,"zero":false},"axis":{"orient":"top","values":[10,20,30,40,60,70,80,90,110,120,130,140,160,170,180,190,210,220,230],"tickSize":-8,"labels":false,"title":null}},
"y":{"field":"v","type":"quantitative","scale":{"domain":[-0.1,23.06],"nice":false,"zero":false},"axis":{"orient":"right","values":[1,2,3,4,6,7,8,9,11,12,13,14,16,17,18,19,21,22],"tickSize":-8,"labels":false,"title":null}},
"text":{"field":"label"}}},
{"data":{"values":[{}]},"mark":{"type":"text","font":"Liberation Serif","fontSize":28,"fontWeight":"bold","color":"black","align":"right","baseline":"middle"},
"encoding":{
"x":{"datum":227.6,"type":"quantitative","axis":null},
"y":{"datum":20.87,"type":"quantitative","axis":null},
"text":{"value":"(b)\u00a0 1/7th Laue zone"}}}
]},
{"width":518,"height":398,
"resolve":{"axis":{"x":"independent","y":"independent"}},
"layer":[
{"data":{"name":"c"},"mark":{"type":"line","stroke":"black","strokeWidth":1.2},
"encoding":{
"x":{"field":"t","type":"quantitative","scale":{"domain":[0,240],"nice":false,"zero":false},"axis":{"orient":"bottom","values":[0,50,100,150,200],"tickSize":-16,"labels":true,"labelPadding":26,"title":"In deposition time (sec)","titlePadding":7}},
"y":{"field":"v","type":"quantitative","scale":{"domain":[-2.83,31.33],"nice":false,"zero":false},"axis":{"orient":"left","values":[0,10,20,30],"tickSize":-15,"labelPadding":21,"labelOffset":{"condition":{"test":"datum.value === 30","value":5},"value":0},"title":null}},
"detail":{"field":"s","type":"nominal"}}},
{"data":{"name":"c"},"mark":{"type":"point","filled":true,"stroke":"black","strokeWidth":1.1,"opacity":1,"size":72},
"encoding":{
"x":{"field":"t","type":"quantitative","scale":{"domain":[0,240],"nice":false,"zero":false},"axis":{"orient":"top","values":[0,50,100,150,200],"tickSize":-16,"labels":false,"title":null}},
"y":{"field":"v","type":"quantitative","scale":{"domain":[-2.83,31.33],"nice":false,"zero":false},"axis":{"orient":"right","values":[0,10,20,30],"tickSize":-15,"labels":false,"title":null}},
"shape":{"field":"s","type":"nominal","scale":{"domain":["(-1/7, 1/7)","(0, 2/7)","(1/7, 3/7)","(2/7, 4/7)","(3/7, 5/7)","(-3/7, -1/7)","(-4/7, -2/7)"],"range":["M-1,0L1,0M0,-1L0,1","M-0.75,-0.75L0.75,0.75M-0.75,0.75L0.75,-0.75","M0,-1.05L0.85,0L0,1.05L-0.85,0Z","M-0.75,-0.75L0.75,-0.75L0.75,0.75L-0.75,0.75Z","M0,-1.3L0.28,-0.28L1.3,0L0.28,0.28L0,1.3L-0.28,0.28L-1.3,0L-0.28,-0.28Z","M-0.7,-1L0.7,1M-0.7,1L0.7,-1M-1.05,-1L1.05,-1M-1.05,1L1.05,1","M0,-1.05L0.22,-0.22L1.05,0L0.22,0.22L0,1.05L-0.22,0.22L-1.05,0L-0.22,-0.22Z"]},"legend":{"title":"spot","orient":"none","legendX":377.5,"legendY":61.5,"labelOffset":7}},
"fill":{"field":"s","type":"nominal","scale":{"domain":["(-1/7, 1/7)","(0, 2/7)","(1/7, 3/7)","(2/7, 4/7)","(3/7, 5/7)","(-3/7, -1/7)","(-4/7, -2/7)"],"range":["white","white","white","white","white","white","white"]},"legend":{"title":"spot","orient":"none","legendX":377.5,"legendY":61.5,"labelOffset":7}}}},
{"data":{"name":"rc"},"mark":{"type":"rule","stroke":"black","strokeWidth":1.6},
"encoding":{
"x":{"field":"t","type":"quantitative","scale":{"domain":[0,240],"nice":false,"zero":false},"axis":{"orient":"bottom","values":[10,20,30,40,60,70,80,90,110,120,130,140,160,170,180,190,210,220,230],"tickSize":-8,"labels":false,"title":null}},
"y":{"field":"v","type":"quantitative","scale":{"domain":[-2.83,31.33],"nice":false,"zero":false},"axis":{"orient":"left","values":[-2,2,4,6,8,12,14,16,18,22,24,26,28],"tickSize":-8,"labels":false,"title":null}},
"y2":{"field":"v2"}}},
{"data":{"name":"tc"},"mark":{"type":"text","font":"Liberation Sans","fontSize":28,"color":"black","align":"center","baseline":"middle"},
"encoding":{
"x":{"field":"t","type":"quantitative","scale":{"domain":[0,240],"nice":false,"zero":false},"axis":{"orient":"top","values":[10,20,30,40,60,70,80,90,110,120,130,140,160,170,180,190,210,220,230],"tickSize":-8,"labels":false,"title":null}},
"y":{"field":"v","type":"quantitative","scale":{"domain":[-2.83,31.33],"nice":false,"zero":false},"axis":{"orient":"right","values":[-2,2,4,6,8,12,14,16,18,22,24,26,28],"tickSize":-8,"labels":false,"title":null}},
"text":{"field":"label"}}},
{"data":{"values":[{}]},"mark":{"type":"text","font":"Liberation Serif","fontSize":28,"fontWeight":"bold","color":"black","align":"right","baseline":"middle"},
"encoding":{
"x":{"datum":227.4,"type":"quantitative","axis":null},
"y":{"datum":27.7,"type":"quantitative","axis":null},
"text":{"value":"(c)\u00a0 2/7th Laue zone"}}}
]}
]
}
